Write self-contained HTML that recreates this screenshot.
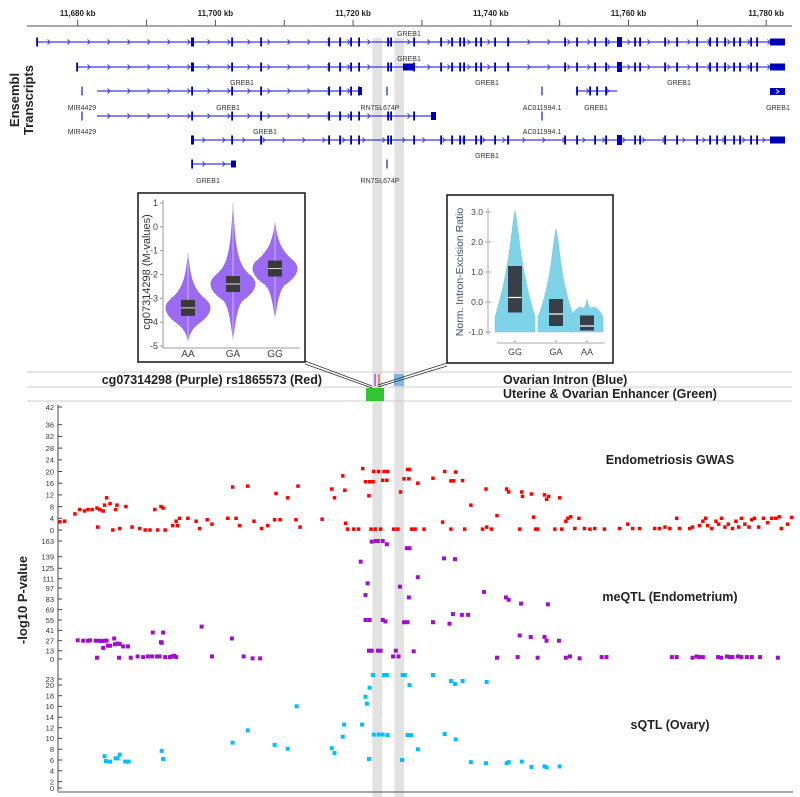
<!DOCTYPE html>
<html><head><meta charset="utf-8"><style>
html,body{margin:0;padding:0;background:#fff;width:800px;height:797px;overflow:hidden}
svg{display:block;font-family:"Liberation Sans",sans-serif}
</style></head><body>
<svg id="fig" width="800" height="797" viewBox="0 0 800 797">
</svg>
<script>
// ---------- DATA ----------
const BASE_KB = 11600;
const axisKbTicks = [11680,11690,11700,11710,11720,11730,11740,11750,11760,11770,11780];
const axisKbLabels = ["11,680 kb","","11,700 kb","","11,720 kb","","11,740 kb","","11,760 kb","","11,780 kb"];
const highlightKb = [[122.8,124.2],[126.0,127.4]];

const gwasTicks = [0,4,8,12,16,20,24,28,32,36,42];
const meqtlTicks = [0,13,27,41,55,69,83,97,111,125,139,163];
const sqtlTicks = [0,2,4,6,8,10,12,14,16,18,20,23];

const gwasPos = [77.4,78.1,79.6,80.3,81.0,81.5,82.1,82.8,82.9,83.2,83.7,83.9,84.2,84.7,85.1,85.5,85.7,86.1,87.0,87.9,89.0,89.8,90.5,91.2,91.6,92.1,92.4,92.7,93.8,94.3,94.5,94.8,96.0,97.2,97.7,98.8,99.5,101.8,102.5,103.0,103.5,104.7,105.6,106.7,107.6,108.6,108.8,109.4,110.5,111.7,112.0,112.3,115.5,116.9,117.3,118.5,118.8,118.9,119.2,120.1,120.8,121.4,121.8,122.3,122.4,122.6,122.9,123.0,123.2,123.7,124.0,124.3,124.5,124.9,125.0,125.9,126.5,126.9,127.4,127.9,128.1,128.2,128.5,129.0,129.4,130.3,131.6,133.0,133.3,134.2,134.2,134.6,134.9,135.9,136.2,137.1,138.8,139.3,139.4,140.1,140.9,142.3,142.6,144.2,144.5,144.6,145.9,146.2,146.5,146.8,147.8,148.1,148.4,149.3,150.0,150.3,150.9,151.2,151.6,152.2,152.8,153.6,154.4,155.1,156.5,158.7,159.9,160.6,161.6,163.8,164.5,165.3,166.0,167.0,167.4,168.9,169.3,170.3,170.8,171.2,171.5,172.1,172.7,173.1,173.5,174.0,174.5,175.1,175.6,176.0,176.4,176.9,177.5,177.9,178.3,178.9,179.6,180.2,180.8,181.4,181.9,182.2,183.1,183.7];
const gwasVal = [2.8,3,5.5,7,6.5,7,7,7.5,1,7,6.5,8.5,11,9,0,7,8.5,0.5,8,1,0.5,0,0,7,0,8,7.5,0,1.5,3,1.5,4,4,3,0.5,3.5,2,4,14.7,4,1.5,15,3,0.5,1.5,3.5,12.5,3.5,11,3.5,15,1,3.7,14,11,18.5,13.6,2.3,0.3,0.3,0.3,21,16.5,11.7,16.5,0.3,16.5,20,0.3,20,0.3,17,20,17,20,0.3,0.3,13,17.5,20.7,17.5,20.7,0.3,0.3,16,0.3,17.7,2.7,20,16.8,0.3,16.8,19.8,16.9,0.3,8.5,0.3,14,1,0.3,4.9,14,13,0.3,13,11.5,12.3,4.4,0.3,0.3,12,10.5,11.5,0.3,11,0.3,3,4,4.5,0.5,4,0.5,0.3,0.5,0.3,0.5,2,0.5,0.5,0.5,0.5,1,0.5,4,0.5,0.5,1,1.5,3,4,1.5,0.5,3,2,4,1,2,0.5,3,1,4,2,1,3.5,4,1,4,2.5,4,4,4.5,0.5,2,4.3];

const meqtlPos = [80.0,80.8,81.5,81.8,82.6,82.8,83.1,83.5,83.9,84.2,83.7,84.4,84.7,85.3,85.4,85.8,86.1,86.0,86.6,87.3,87.7,88.7,89.5,90.2,90.8,90.9,91.5,91.9,92.1,92.2,92.4,92.7,93.4,93.7,94.0,94.3,98.0,99.5,102.4,104.1,105.4,106.5,121.1,122.7,123.3,123.6,124.3,124.9,127.8,128.2,133.2,134.8,129.4,122.1,121.8,126.8,128.1,121.8,122.4,124.3,124.7,127.4,127.9,131.6,134.0,134.5,135.8,136.7,122.3,122.7,123.6,124.0,126.2,125.8,126.6,128.8,139.0,142.2,142.6,144.4,148.3,144.2,145.8,147.8,148.1,149.9,140.9,143.9,146.8,150.9,151.5,152.9,156.1,156.8,166.3,167.0,169.3,169.9,170.3,170.8,173.0,173.5,174.3,174.7,175.1,175.9,176.4,177.2,177.9,179.1,181.7];
const meqtlVal = [27.5,27,27,27.5,27,2,27,26.5,27,27,17,20,20,30,22,23,22.5,2,19,19,2,4,3,4,4,38,4,4,25,24,38,3,3,4,5,3,46,4,30,4,1,1,133,162,163,163,163,158,152,152,137,136,113,104,88,99,85,55,55,55,53,52,52,52,50,63,62,62,13,13,13,13,13,4,4,12,92,85,82,77,76,34,32,32,27,27,2,3,2,2,4,1,3,3,3,3,2,4,3,3,3,2,4,3,3,4,3,3,3,3,2];

const sqtlPos = [83.9,84.1,84.7,85.5,85.8,86.1,86.9,87.4,92.2,92.4,102.5,104.7,108.6,110.5,111.8,116.9,117.3,118.5,118.7,121.3,121.8,122.0,122.3,122.4,122.9,123.0,123.7,124.3,124.5,124.9,125.0,127.1,127.2,127.5,127.9,128.2,128.4,129.4,131.6,133.3,134.2,134.8,134.9,135.9,137.1,139.3,139.4,142.3,142.6,144.5,145.9,147.8,148.1,150.0];
const sqtlVal = [6.7,5.8,5.7,6.3,6.3,7,5.7,5.7,7.7,6.2,9.2,11.5,8.8,8.1,16,8.2,7.3,10.3,12.6,12.6,17.8,16.5,6.2,19.5,25,10.7,10.7,10.7,25,25,10.6,6,25,25,10.6,20,10.6,8,25,10.8,22,20.5,9.8,22,5.6,5.4,21.5,5.4,5.6,5.7,4.7,4.8,4.6,4.8];

// ---------- SCALES ----------
const NS = "http://www.w3.org/2000/svg";
const svg = document.getElementById('fig');
function xKb(kb){ return 77.7 + (kb - 11680) * 6.885; }
function xPos(p){ return xKb(BASE_KB + p); }
function piece(ticks, ys){
  return function(v){
    for(let i=0;i<ticks.length-1;i++){
      if(v<=ticks[i+1]||i===ticks.length-2){
        const t=(v-ticks[i])/(ticks[i+1]-ticks[i]);
        return ys[i]+t*(ys[i+1]-ys[i]);
      }
    }
  };
}
const yGwas = piece(gwasTicks,[530,518.3,506.6,494.9,483.2,471.5,459.8,448.1,436.4,424.7,407]);
const yMeqtl = piece(meqtlTicks,[659,650.7,640.7,630.3,620,609.7,599,588,578.7,568.3,556.7,541]);
const ySqtl = piece(sqtlTicks,[788,781.7,770.7,760,749.3,738.3,727.7,717.3,706.3,695.7,685,679]);

function el(tag, attrs, parent){
  const e=document.createElementNS(NS,tag);
  for(const k in attrs) e.setAttribute(k,attrs[k]);
  (parent||svg).appendChild(e); return e;
}
function txt(s, attrs, parent){ const e=el('text',attrs,parent); e.textContent=s; return e; }

// ---------- highlight bars ----------
highlightKb.forEach((h,i)=>{
  const r=el('rect',{x:xPos(h[0]),y:38,width:xPos(h[1])-xPos(h[0]),height:759,fill:'#e2e2e2'});
  
  
});

// ---------- top axis ----------
const topAxis=el('g',{});


el('line',{x1:27,y1:26,x2:792,y2:26,stroke:'#555','stroke-width':1},topAxis);
axisKbTicks.forEach((k,i)=>{
  const x=xKb(k);
  el('line',{x1:x,y1:20,x2:x,y2:26,stroke:'#555'},topAxis);
  if(axisKbLabels[i]){
    const t=txt(axisKbLabels[i],{x:x,y:16,'text-anchor':'middle','font-size':8,'font-weight':'bold',fill:'#222'},topAxis);
    
    
  }
});

// ---------- transcripts ----------
const tr=el('g',{});


const LINE='#3a3ae0', EX='#0000b8';
const fullEx=[192,232,261,329,340,351,359,388,391,414,441,452,460,464,476,481,495,508,565,577,595,606,635,640,665,677,697,710,717,725,734,740,751,757];
function transcript(y,x1,x2,exons,extra){
  el('line',{x1:x1,y1:y,x2:x2,y2:y,stroke:LINE,'stroke-width':1.3},tr);
  for(let x=x1+12;x<x2-6;x+=20){
    el('polyline',{points:`${x-1.5},${y-2.5} ${x+1},${y} ${x-1.5},${y+2.5}`,fill:'none',stroke:LINE,'stroke-width':0.9},tr);
  }
  exons.forEach(x=>{ if(x>=x1&&x<=x2) el('rect',{x:x-0.8,y:y-4.5,width:1.8,height:9,fill:EX},tr); });
  (extra||[]).forEach(b=>el('rect',{x:b[0],y:y-b[2]/2,width:b[1]-b[0],height:b[2],fill:EX},tr));
}
transcript(42,37,785,fullEx.concat([37]),[[191,194,9],[617,622,10],[770,785,7]]);
transcript(67,77,785,fullEx.concat([77]),[[191,194,9],[403,414,7],[617,622,10],[770,785,7]]);
transcript(91,97,361,fullEx,[[358,362,8]]);
transcript(116,97,435,fullEx,[[431,436,8]]);
transcript(140,192,785,fullEx,[[191,194,9],[617,622,10],[770,785,7]]);
transcript(164,192,236,[192],[[231,236,7]]);
transcript(91,576,617,[577,590,597,606]);
el('rect',{x:770,y:88,width:15,height:7,fill:EX},tr);
el('polyline',{points:'776,89.5 779,91.5 776,93.5',fill:'none',stroke:'#fff','stroke-width':0.9},tr);
[[82,91],[82,116],[387,91],[387,164],[542,91],[542,116]].forEach(p=>el('rect',{x:p[0]-0.7,y:p[1]-4.5,width:1.4,height:9,fill:'#3a3ae0'},tr));
[["GREB1",409,36],["GREB1",409,61],["GREB1",242,85],["GREB1",487,85],["GREB1",679,85],
 ["MIR4429",82,110],["GREB1",228,110],["RN7SL674P",380,110],["AC011994.1",542,110],["GREB1",596,110],["GREB1",778,110],
 ["MIR4429",82,134],["GREB1",265,134],["AC011994.1",542,134],["GREB1",487,158],["GREB1",208,183],["RN7SL674P",380,183]
].forEach(l=>txt(l[0],{x:l[1],y:l[2],'text-anchor':'middle','font-size':7,fill:'#333'},tr));
const et=txt('',{transform:'translate(22,100) rotate(-90)','text-anchor':'middle','font-size':13,'font-weight':'bold',fill:'#222'});


el('tspan',{x:0,dy:-3},et).textContent='Ensembl';
el('tspan',{x:0,dy:14},et).textContent='Transcripts';

// ---------- annotation rows ----------
const ann=el('g',{});


[372,387,401].forEach(y=>el('line',{x1:27,y1:y,x2:792,y2:y,stroke:'#ccc','stroke-width':1},ann));
el('rect',{x:366,y:388,width:18,height:13,fill:'#33c433'},ann);
el('rect',{x:394,y:374,width:10,height:12,fill:'#7ab8e8'},ann);
el('line',{x1:375,y1:374,x2:375,y2:386,stroke:'#9933cc','stroke-width':1.2},ann);
el('line',{x1:379,y1:374,x2:379,y2:386,stroke:'#e03030','stroke-width':1},ann);
txt('cg07314298 (Purple) rs1865573 (Red)',{x:322,y:384,'text-anchor':'end','font-size':12.5,'font-weight':'bold',fill:'#222'},ann);
txt('Ovarian Intron (Blue)',{x:503,y:384,'font-size':12.5,'font-weight':'bold',fill:'#222'},ann);
txt('Uterine & Ovarian Enhancer (Green)',{x:503,y:398,'font-size':12.5,'font-weight':'bold',fill:'#222'},ann);

// connectors
[[305,361,372,386],[305,364,372,388],[447,363,378,385],[447,366,378,387]].forEach(l=>el('line',{x1:l[0],y1:l[1],x2:l[2],y2:l[3],stroke:'#333','stroke-width':0.8}));

// ---------- violin inset 1 ----------
const v1=el('g',{});


el('rect',{x:138,y:193,width:167,height:169,fill:'#fff',stroke:'#222','stroke-width':1.6},v1);
const m1Ticks=[1,0,-1,-2,-3,-4,-5];
const ym1=v=>203+(1-v)*(346-203)/6;
el('line',{x1:163,y1:200,x2:163,y2:348,stroke:'#999'},v1);
el('line',{x1:163,y1:348,x2:300,y2:348,stroke:'#999'},v1);
m1Ticks.forEach(t=>{el('line',{x1:160,y1:ym1(t),x2:163,y2:ym1(t),stroke:'#999'},v1);
  txt(String(t),{x:158,y:ym1(t)+3,'text-anchor':'end','font-size':9,fill:'#444'},v1);});
txt('cg07314298 (M-values)',{transform:'translate(150,272) rotate(-90)','text-anchor':'middle','font-size':11,fill:'#333'},v1);
const v1Cats=["AA","GA","GG"], v1Med=[-3.4,-2.4,-1.75], v1Min=[-4.8,-4.7,-3.8], v1Max=[-1.1,1.0,0.2];
const v1X=[188,233,275];
v1Cats.forEach((c,i)=>{
  const cx=v1X[i], m=ym1(v1Med[i]), top=ym1(v1Max[i]), bot=ym1(v1Min[i]);
  el('path',{d:`M${cx},${top} C${cx+2},${m-28} ${cx+6},${m-18} ${cx+18},${m-8} C${cx+26},${m-1} ${cx+22},${m+8} ${cx+10},${m+16} C${cx+3},${m+22} ${cx+1},${bot-6} ${cx},${bot} C${cx-1},${bot-6} ${cx-3},${m+22} ${cx-10},${m+16} C${cx-22},${m+8} ${cx-26},${m-1} ${cx-18},${m-8} C${cx-6},${m-18} ${cx-2},${m-28} ${cx},${top}Z`,fill:'#9b6af2',stroke:'#8a5ae0','stroke-width':0.5},v1);
  el('line',{x1:cx,y1:top,x2:cx,y2:bot,stroke:'#d9c8ff','stroke-width':0.8},v1);
  el('rect',{x:cx-7,y:m-8,width:14,height:16,fill:'#3a3a3a'},v1);
  el('line',{x1:cx-7,y1:m,x2:cx+7,y2:m,stroke:'#ddd','stroke-width':1},v1);
  txt(c,{x:cx,y:357,'text-anchor':'middle','font-size':10,fill:'#444'},v1);
});

// ---------- violin inset 2 ----------
const v2=el('g',{});


el('rect',{x:447,y:195,width:166,height:168,fill:'#fff',stroke:'#222','stroke-width':1.6},v2);
const ym2=v=>212+(3-v)*(332-212)/4;
const m2Ticks=[3,2,1,0,-1], m2Labels=["3.0","2.0","1.0","0.0","-1.0"];
el('line',{x1:488,y1:208,x2:488,y2:335,stroke:'#aaa'},v2);
el('line',{x1:497,y1:343,x2:605,y2:343,stroke:'#aaa'},v2);
m2Ticks.forEach((t,i)=>{el('line',{x1:485,y1:ym2(t),x2:491,y2:ym2(t),stroke:'#aaa'},v2);
  txt(m2Labels[i],{x:483,y:ym2(t)+3,'text-anchor':'end','font-size':8.5,fill:'#444'},v2);});
txt('Norm. Intron-Excision Ratio',{transform:'translate(463,272) rotate(-90)','text-anchor':'middle','font-size':10.5,fill:'#3b5070'},v2);
const v2Cats=["GG","GA","AA"], v2Q1=[-0.35,-0.8,-0.95], v2Q3=[1.2,0.1,-0.45], v2Med=[0.15,-0.4,-0.8], v2Max=[3.05,2.45,0.1];
const v2X=[515,556,587], v2W=[20,18,16];
v2Cats.forEach((c,i)=>{
  const cx=v2X[i], w=v2W[i], top=ym2(v2Max[i]), bot=ym2(-1.0), mid=ym2(v2Med[i]);
  el('path',{d:`M${cx},${top} C${cx+4},${top+20} ${cx+5},${mid-30} ${cx+w},${bot-15} L${cx+w},${bot} L${cx-w},${bot} L${cx-w},${bot-15} C${cx-5},${mid-30} ${cx-4},${top+20} ${cx},${top}Z`,fill:'#7fd3e8',stroke:'#6cc6dd','stroke-width':0.5},v2);
  el('rect',{x:cx-7,y:ym2(v2Q3[i]),width:14,height:ym2(v2Q1[i])-ym2(v2Q3[i]),fill:'#374049'},v2);
  el('line',{x1:cx-7,y1:mid,x2:cx+7,y2:mid,stroke:'#fff','stroke-width':1.2},v2);
  el('line',{x1:cx,y1:340,x2:cx,y2:343,stroke:'#aaa'},v2);
  txt(c,{x:cx,y:355,'text-anchor':'middle','font-size':9,fill:'#444'},v2);
});

// ---------- lower panels ----------
const lp=el('g',{});


el('line',{x1:58,y1:405,x2:58,y2:791,stroke:'#444','stroke-width':1},lp);
el('line',{x1:58,y1:792,x2:793,y2:792,stroke:'#888','stroke-width':1.5},lp);
function yTicks(ticks,ys,name){
  const g=el('g',{},lp);
  
  
  ticks.forEach(t=>{const y=ys(t);
    el('line',{x1:58,y1:y,x2:62,y2:y,stroke:'#444'},g);
    txt(String(t),{x:54,y:y+2.8,'text-anchor':'end','font-size':7.5,fill:'#333'},g);});
}
yTicks(gwasTicks,yGwas,'gwas-y-axis');
yTicks(meqtlTicks,yMeqtl,'meqtl-y-axis');
yTicks(sqtlTicks,ySqtl,'sqtl-y-axis');
const yl=txt('-log10 P-value',{transform:'translate(27,600) rotate(-90)','text-anchor':'middle','font-size':13,'font-weight':'bold',fill:'#222'});


[['Endometriosis GWAS',670,464,'gwas-title'],['meQTL (Endometrium)',670,601,'meqtl-title'],['sQTL (Ovary)',670,729,'sqtl-title']].forEach(t=>{
  const e=txt(t[0],{x:t[1],y:t[2],'text-anchor':'middle','font-size':12.5,'font-weight':'bold',fill:'#222'});
  
  
});
function points(pos,val,ys,color,size,name){
  const g=el('g',{},lp);
  
  
  pos.forEach((p,i)=>{
    const r=el('rect',{x:xPos(p)-size/2,y:ys(val[i])-size/2,width:size,height:size,fill:color},g);
    
    
  });
}
points(gwasPos,gwasVal,yGwas,'#ff0000',3.5,'gwas-series');
points(meqtlPos,meqtlVal,yMeqtl,'#a00fc8',4,'meqtl-series');
points(sqtlPos,sqtlVal,ySqtl,'#00bfff',4,'sqtl-series');
</script>
</body></html>
